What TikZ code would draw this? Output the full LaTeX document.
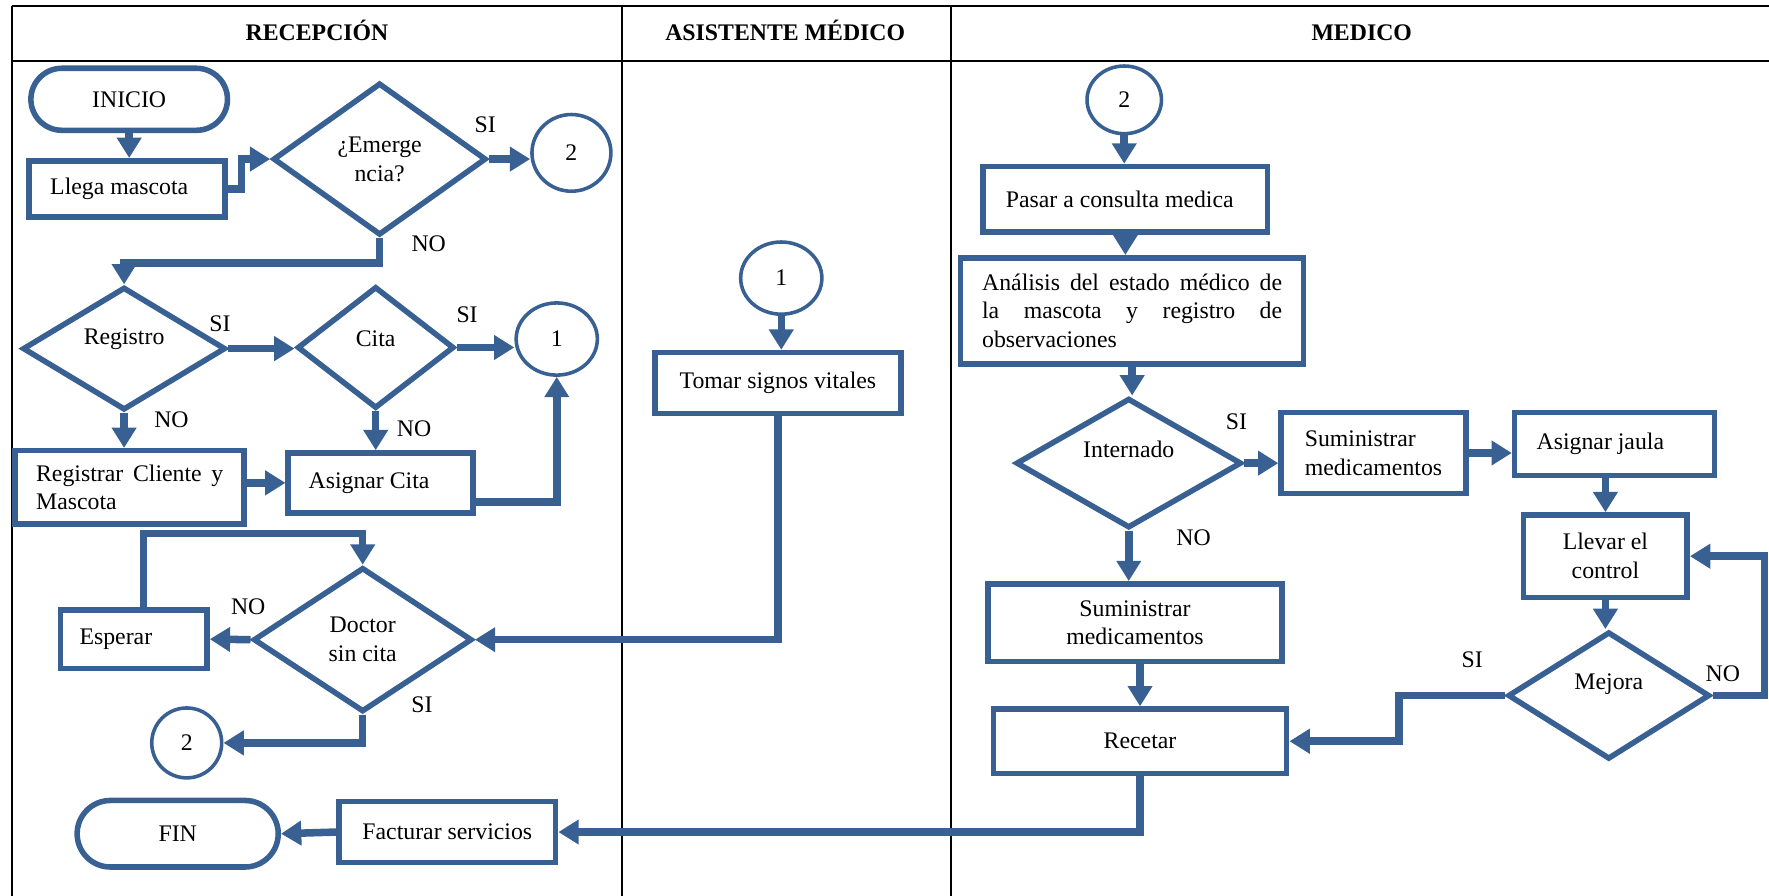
\documentclass[tikz,border=0pt]{standalone}
\usepackage{fontspec}
\setmainfont{Liberation Serif}
\usepackage{tikz}
\usetikzlibrary{positioning}
\usetikzlibrary{shapes.geometric,shapes.misc}
\usetikzlibrary{arrows.meta}
\definecolor{flujo}{RGB}{56,96,146}

\begin{document}
\begin{tikzpicture}[x=0.02cm,y=-0.02cm,
 font=\fontsize{12}{14.5}\selectfont,
 caja/.style 2 args={draw=flujo, line width=2.8pt, minimum width=#1, minimum height=#2, inner sep=2pt},
 rombo/.style 2 args={diamond, draw=flujo, line width=2.8pt, minimum width=#1, minimum height=#2, inner sep=0pt, aspect=1.6, align=center},
 terminal/.style 2 args={rounded rectangle, draw=flujo, line width=2.8pt, minimum width=#1, minimum height=#2},
 conector/.style 2 args={ellipse, draw=flujo, line width=1.8pt, minimum width=#1, minimum height=#2, inner sep=0pt},
 flecha/.style={draw=flujo, line width=3.8pt, -{Triangle[width=0.42cm,length=0.36cm]}},
 carril/.style={line width=1pt},
 titulo/.style={font=\fontsize{12}{14.5}\selectfont\bfseries, anchor=base}]

\useasboundingbox (0,0) rectangle (1568,794);

\draw[carril] (11,5) -- (1568,5);
\draw[carril] (11,54) -- (1568,54);
\draw[carril] (11,5) -- (11,794);
\draw[carril] (551,5) -- (551,794);
\draw[carril] (843,5) -- (843,794);

\node[titulo] (hrec) at (281,35.5) {RECEPCIÓN};
\node[titulo] (hasi) at (696,35.5) {ASISTENTE MÉDICO};
\node[titulo] (hmed) at (1207,35.5) {MEDICO};

% recepcion
\node[terminal={3.72cm}{1.10cm}] (inicio) at (114.5,88) {INICIO};
\node[caja={3.48cm}{1.00cm}, text width=2.72cm, align=flush left] (llega) at (112.5,167.5) {Llega mascota};
\node[rombo={3.78cm}{2.70cm}] (emerg) at (336.5,141) {¿Emerge\\ncia?};
\node[conector={1.40cm}{1.36cm}] (dosa) at (506.5,135.5) {2};
\node[rombo={3.60cm}{2.18cm}, text depth=12.5pt] (registro) at (110,309) {Registro};
\node[rombo={2.78cm}{2.16cm}, text depth=9pt] (cita) at (333,308) {Cita};
\node[conector={1.44cm}{1.28cm}] (unoa) at (493.5,300.5) {1};
\node[caja={4.06cm}{1.30cm}, text width=3.32cm, align=justify] (regcli) at (115,432) {Registrar Cliente y\linebreak Mascota};
\node[caja={3.28cm}{1.06cm}, text width=2.56cm, align=flush left] (asigcita) at (337.5,428) {Asignar Cita};
\node[caja={2.60cm}{1.04cm}, text width=1.92cm, align=flush left] (esperar) at (118.5,566.5) {Esperar};
\node[rombo={3.88cm}{2.56cm}] (doctor) at (321.5,567) {Doctor\\sin cita};
\node[conector={1.24cm}{1.24cm}] (dosb) at (165.5,658.5) {2};
\node[terminal={3.80cm}{1.18cm}] (fin) at (157.5,739) {FIN};
\node[caja={3.84cm}{1.08cm}] (facturar) at (396.5,737.5) {Facturar servicios};

% asistente medico
\node[conector={1.44cm}{1.28cm}] (unob) at (692.5,246.5) {1};
\node[caja={4.36cm}{1.08cm}] (tomar) at (689.5,339.5) {Tomar signos vitales};

% medico
\node[conector={1.32cm}{1.20cm}] (dosc) at (996.5,88.5) {2};
\node[caja={5.04cm}{1.16cm}, text width=4.24cm, align=flush left] (pasar) at (997.5,176.5) {Pasar a consulta medica};
\node[caja={6.08cm}{1.88cm}, text width=5.32cm, align=justify] (analisis) at (1003.5,275.5) {Análisis del estado médico de\linebreak la mascota y registro de\linebreak observaciones};
\node[rombo={4.00cm}{2.30cm}, text depth=13.8pt] (internado) at (1000.5,410.5) {Internado};
\node[caja={3.28cm}{1.44cm}, text width=2.44cm, align=flush left] (sumuno) at (1217.5,401.5) {Suministrar\\medicamentos};
\node[caja={3.54cm}{1.12cm}, text width=2.76cm, align=flush left] (jaula) at (1431,393.5) {Asignar jaula};
\node[caja={2.90cm}{1.46cm}, align=center] (llevar) at (1423,493) {Llevar el\\control};
\node[rombo={3.58cm}{2.26cm}, text depth=13.8pt] (mejora) at (1426,616.5) {Mejora};
\node[caja={5.22cm}{1.38cm}, align=center] (sumdos) at (1006,552) {Suministrar\\medicamentos};
\node[caja={5.20cm}{1.14cm}] (recetar) at (1010.5,657) {Recetar};

\node (siemerg) at (430,111) {SI};
\node (noemerg) at (380,216) {NO};
\node (sireg) at (195,287) {SI};
\node (noreg) at (152,372) {NO};
\node (sicita) at (414,279) {SI};
\node (nocita) at (367,380) {NO};
\node (nodoc) at (220,538) {NO};
\node (sidoc) at (374,625) {SI};
\node (siint) at (1096,374) {SI};
\node (noint) at (1058,477) {NO};
\node (simej) at (1305,585) {SI};
\node (nomej) at (1527,597) {NO};

\draw[flecha] (inicio.south) -- (inicio.south |- llega.north);
\draw[flecha] (llega.east) -- ++(12,0) |- (emerg.west);
\draw[flecha] (emerg.east) -- (emerg.east -| dosa.west);
\draw[flecha] (emerg.south) -- ++(0,22) -| (registro.north);
\draw[flecha] (registro.east) -- (registro.east -| cita.west);
\draw[flecha] (cita.east) -- (cita.east -| unoa.west);
\draw[flecha] (registro.south) -- (registro.south |- regcli.north);
\draw[flecha] (cita.south) -- (cita.south |- asigcita.north);
\draw[flecha] (regcli.east |- asigcita.west) -- (asigcita.west);
\draw[flecha] ([yshift=-0.34cm]asigcita.east) -| (unoa.south);
\draw[flecha] ([xshift=0.17cm]esperar.north) -- ++(0,-65) -| (doctor.north);
\draw[flecha] (doctor.west) -- (esperar.east);
\draw[flecha] (doctor.south) |- (dosb.east);
\draw[flecha] (tomar.south) |- (doctor.east);
\draw[flecha] (facturar.west) -- (fin.east);

\draw[flecha] (unob.south) -- (unob.south |- tomar.north);

\draw[flecha] (dosc.south) -- (dosc.south |- pasar.north);
\draw[flecha] (pasar.south) -- (pasar.south |- analisis.north);
\draw[flecha] (analisis.south) -- (analisis.south |- internado.north);
\draw[flecha] (internado.east) -- (internado.east -| sumuno.west);
\draw[flecha] (sumuno.east) -- (sumuno.east -| jaula.west);
\draw[flecha] (llevar.north |- jaula.south) -- (llevar.north);
\draw[flecha] (llevar.south) -- (llevar.south |- mejora.north);
\draw[flecha] (mejora.east) -- ++(46,0) |- (llevar.east);
\draw[flecha] (mejora.west) -- ++(-94,0) |- (recetar.east);
\draw[flecha] (internado.south) -- (internado.south |- sumdos.north);
\draw[flecha] (recetar.north |- sumdos.south) -- (recetar.north);
\draw[flecha] (recetar.south) |- (facturar.east);
\end{tikzpicture}
\end{document}
